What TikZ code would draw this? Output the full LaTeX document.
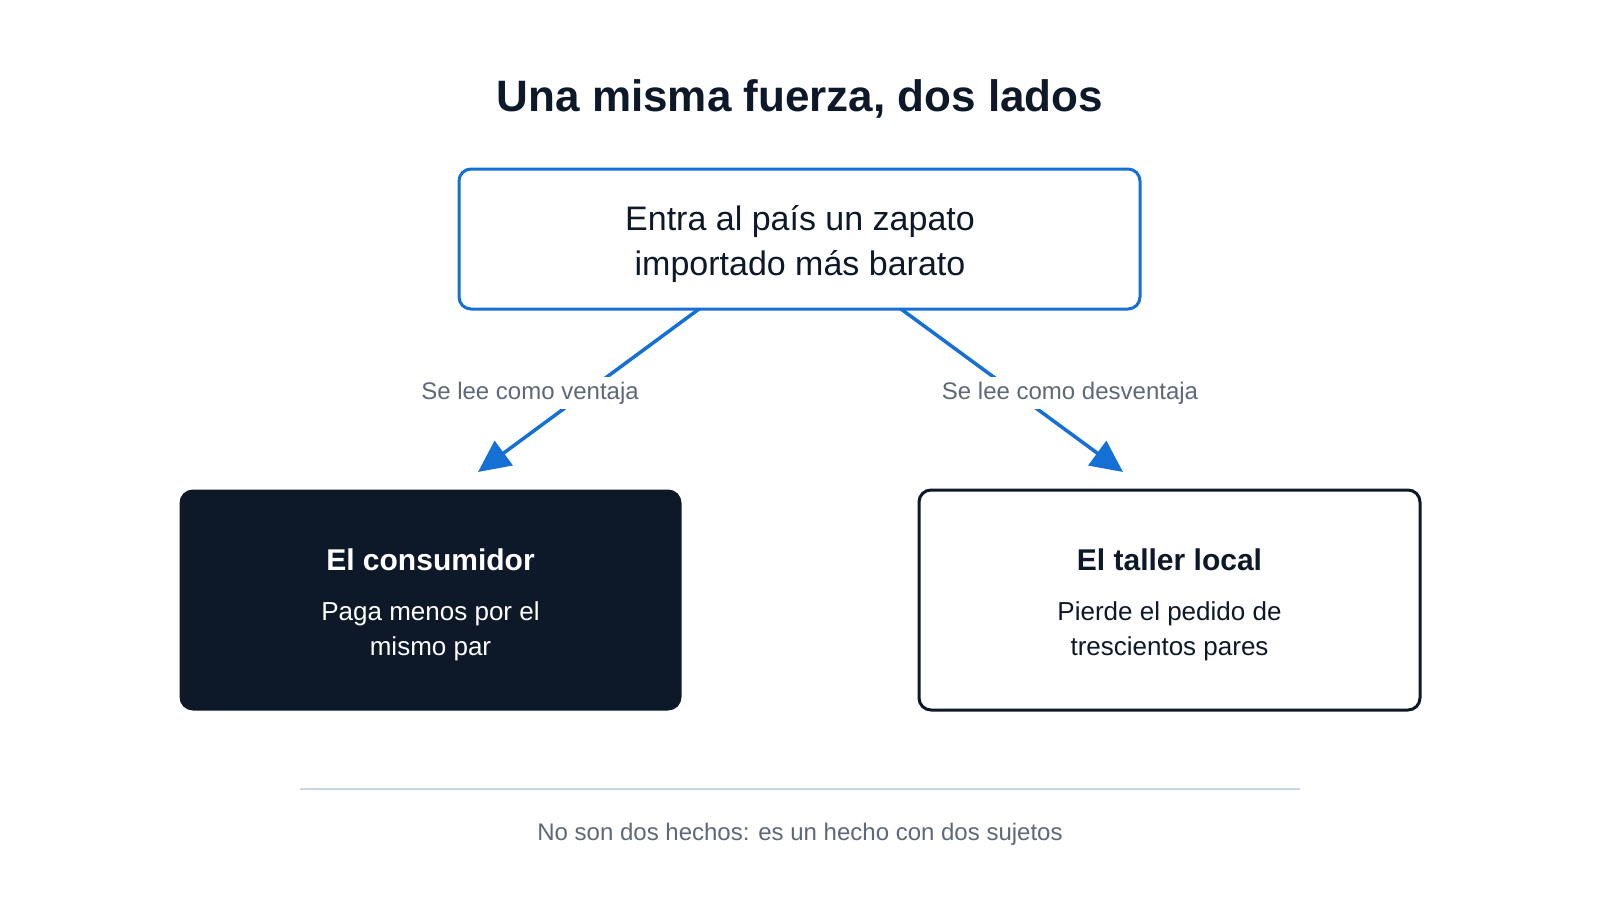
\documentclass[tikz,border=0pt]{standalone}
\usepackage{fontspec}
\setmainfont{Liberation Sans}
\usetikzlibrary{arrows.meta}
\definecolor{navy}{HTML}{0D1829}
\definecolor{arrowblue}{HTML}{1570D5}
\definecolor{labelgray}{HTML}{5E6878}
\definecolor{rulegray}{HTML}{CBD5E1}
\tikzset{
  boxbase/.style={rectangle, rounded corners=12pt, line width=3pt, inner sep=0pt},
  topbox/.style={boxbase, draw=arrowblue, fill=white, minimum width=681pt, minimum height=140pt},
  darkbox/.style={boxbase, draw=navy, fill=navy, minimum width=499pt, minimum height=218pt},
  lightbox/.style={boxbase, draw=navy, fill=white, minimum width=501pt, minimum height=220pt},
  linkarrow/.style={draw=arrowblue, line width=3.5pt, -{Triangle[length=32pt,width=30pt]}},
  linklabel/.style={fill=white, text=labelgray, inner sep=5pt, anchor=base, font=\fontsize{24}{29}\selectfont},
  titletext/.style={anchor=base, text=navy, font=\bfseries\fontsize{44}{52}\selectfont},
  maintext/.style={anchor=base, text=navy, font=\fontsize{34}{40}\selectfont, inner sep=0pt},
  headtext/.style={anchor=base, font=\bfseries\fontsize{30}{36}\selectfont, inner sep=0pt},
  subtext/.style={anchor=base, font=\fontsize{26}{30}\selectfont, inner sep=0pt},
  foottext/.style={anchor=base, text=labelgray, font=\fontsize{24}{29}\selectfont, inner sep=0pt}
}
\begin{document}
\begin{tikzpicture}[x=1pt,y=-1pt]
\useasboundingbox (0,0) rectangle (1600,900);
\fill[white] (0,0) rectangle (1600,900);

\node[titletext] (title) at (800,111) {Una misma fuerza, dos lados};

\node[topbox] (top) at (799.5,239) {};
\node[maintext] (top1) at (800,230) {Entra al país un zapato};
\node[maintext] (top2) at (800,275) {importado más barato};

\node[darkbox] (left) at (430.5,600) {};
\node[headtext, text=white] (lefth) at (430.5,570) {El consumidor};
\node[subtext, text=white] (lefts1) at (430.5,620) {Paga menos por el};
\node[subtext, text=white] (lefts2) at (430.5,655) {mismo par};

\node[lightbox] (right) at (1169.5,600) {};
\node[headtext, text=navy] (righth) at (1169.5,570) {El taller local};
\node[subtext, text=navy] (rights1) at (1169.5,620) {Pierde el pedido de};
\node[subtext, text=navy] (rights2) at (1169.5,655) {trescientos pares};

\coordinate (s1) at (699,309);
\coordinate (t1) at (478,472);
\coordinate (s2) at (901,309);
\coordinate (t2) at (1123,472);
\draw[linkarrow] (s1) -- (t1);
\draw[linkarrow] (s2) -- (t2);
\node[linklabel] (lab1) at (530,399) {Se lee como ventaja};
\node[linklabel] (lab2) at (1070,399) {Se lee como desventaja};

\coordinate (r1) at (300,789);
\coordinate (r2) at (1300,789);
\draw[rulegray, line width=2pt] (r1) -- (r2);
\node[foottext] (foot) at (800,840) {No son dos hechos: es un hecho con dos sujetos};
\end{tikzpicture}
\end{document}
